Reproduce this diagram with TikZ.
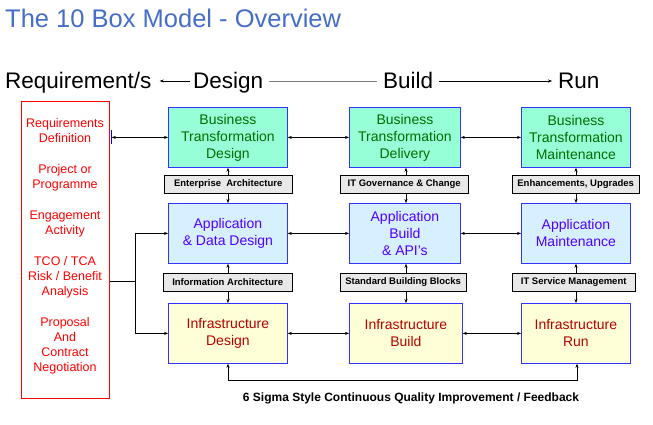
\documentclass[tikz,border=0pt]{standalone}
\usepackage{fontspec}
\setmainfont{Liberation Sans}
\usetikzlibrary{arrows.meta}
\definecolor{tblue}{RGB}{70,110,200}
\definecolor{bgreen}{RGB}{150,255,215}
\definecolor{bblue}{RGB}{215,240,255}
\definecolor{byel}{RGB}{255,255,215}
\definecolor{tgreen}{RGB}{0,110,0}
\definecolor{tpurp}{RGB}{80,0,255}
\definecolor{tred}{RGB}{180,0,0}
\begin{document}
\begin{tikzpicture}[x=1pt,y=-1pt,
 box/.style={draw=blue!80!white,line width=0.8pt,minimum width=#1,minimum height=60,align=center,font=\fontsize{14}{17}\selectfont,anchor=north west,inner sep=1pt},
 bt/.style={box=#1,fill=bgreen,text=tgreen},
 ap/.style={box=#1,fill=bblue,text=tpurp},
 inf/.style={box=#1,fill=byel,text=tred},
 lab/.style={draw=black,fill=gray!18,minimum width=#1,minimum height=18,font=\bfseries\fontsize{9.5}{10}\selectfont,anchor=north west,inner sep=1pt},
 hd/.style={font=\fontsize{22.5}{26}\selectfont,anchor=base west,inner sep=0},
 arr/.style={-{Stealth[length=4pt,width=3pt]}},
 darr/.style={{Stealth[length=4pt,width=3pt]}-{Stealth[length=4pt,width=3pt]}}]
\useasboundingbox (0,0) rectangle (653,424);
\node[anchor=base west,inner sep=0,text=tblue,font=\fontsize{25.5}{28}\selectfont] (title) at (5,27) {The 10 Box Model - Overview};
\node[hd] (req) at (5,88) {Requirement/s};
\node[hd] (des) at (193,88) {Design};
\node[hd] (bui) at (383,88) {Build};
\node[hd] (run) at (558,88) {Run};
\draw[arr] ([xshift=-3pt,yshift=7pt]des.base west) -- ([xshift=8pt,yshift=7pt]req.base east);
\draw[gray,line width=0.8pt] ([xshift=6pt,yshift=7pt]des.base east) -- ([xshift=-6pt,yshift=7pt]bui.base west);
\draw[arr] ([xshift=6pt,yshift=7pt]bui.base east) -- ([xshift=-6pt,yshift=7pt]run.base west);
% red box
\node[draw=red,line width=0.8pt,minimum width=88,minimum height=297,anchor=north west,inner sep=0] (rq) at (21,101) {};
\node[text=red,align=center,font=\fontsize{12.5}{15}\selectfont,anchor=north,inner sep=0] (rqt) at (65,118)
 {Requirements\\Definition\\[16pt]Project or\\Programme\\[16pt]Engagement\\Activity\\[16pt]TCO / TCA\\Risk / Benefit\\Analysis\\[16pt]Proposal\\And\\Contract\\Negotiation};
% boxes
\node[bt=119] (b1) at (168,107) {Business\\Transformation\\Design};
\node[ap=119] (a1) at (168,203) {Application\\\& Data Design};
\node[inf=119] (i1) at (168,303) {Infrastructure\\Design};
\node[bt=111] (b2) at (349,107) {Business\\Transformation\\Delivery};
\node[ap=111] (a2) at (349,203) {Application\\Build\\\& API's};
\node[inf=113] (i2) at (349,303) {Infrastructure\\Build};
\node[bt=109] (b3) at (521,107) {Business\\Transformation\\Maintenance};
\node[ap=109] (a3) at (521,203) {Application\\Maintenance};
\node[inf=109] (i3) at (521,303) {Infrastructure\\Run};
% labels
\node[lab=128] (l1) at (164,175) {Enterprise\ \ Architecture};
\node[lab=129] (m1) at (163,273) {Information Architecture};
\node[lab=128] (l2) at (340,175) {IT Governance \& Change};
\node[lab=126] (m2) at (340,273) {Standard Building Blocks};
\node[lab=127] (l3) at (512,175) {Enhancements, Upgrades};
\node[lab=123] (m3) at (512,273) {IT Service Management};
% vertical arrows
\foreach \b/\l/\a/\x in {b1/l1/a1/228,b2/l2/a2/406,b3/l3/a3/576,a1/m1/i1/228,a2/m2/i2/406,a3/m3/i3/576}{
 \draw[arr] (\l.north -| \x,0) -- (\b.south -| \x,0);
 \draw[arr] (\l.south -| \x,0) -- (\a.north -| \x,0);
}
% horizontal
\foreach \p/\q in {b1/b2,b2/b3,a1/a2,a2/a3,i1/i2,i2/i3}{
 \draw[darr] (\p.east) -- (\q.west);
}
\draw[blue,line width=1pt] ([xshift=2pt]rq.east |- 0,130) -- ([xshift=2pt]rq.east |- 0,144);
\draw[darr] ([xshift=2pt]rq.east |- b1.west) -- (b1.west);
\coordinate (j) at (135,281);
\draw (rq.east |- j) -- (j);
\draw[arr] (j) |- (a1.west);
\draw[arr] (j) |- (i1.west);
% feedback
\coordinate (f1) at (228,380);
\coordinate (f2) at (577,380);
\draw[darr] (i1.south -| f1) -- (f1) -- (f2) -- (i3.south -| f2);
\node[font=\bfseries\fontsize{12}{14}\selectfont,inner sep=0] (fb) at (411,398) {6 Sigma Style Continuous Quality Improvement / Feedback};
\end{tikzpicture}
\end{document}
